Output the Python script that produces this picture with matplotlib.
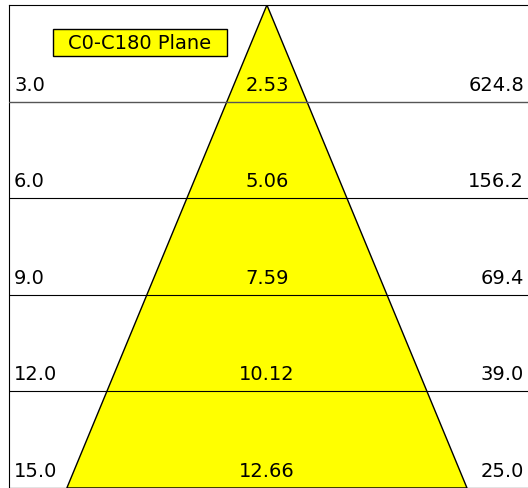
import matplotlib
matplotlib.use("Agg")
import matplotlib.pyplot as plt
from matplotlib.patches import Polygon, Rectangle

distances = [3.0, 6.0, 9.0, 12.0, 15.0]
diameters = [2.53, 5.06, 7.59, 10.12, 12.66]
lux = [624.8, 156.2, 69.4, 39.0, 25.0]
plane = "C0-C180 Plane"

W, H = 528, 489
fig = plt.figure(figsize=(W / 100, H / 100), dpi=100)
ax = fig.add_axes([9 / W, 0, 1 - 9 / W, 1 - 6 / H])

xmin, xmax = -8.16, 8.26
ax.set_xlim(xmin, xmax)
ax.set_ylim(distances[-1], 0)

# beam cone, apex at the lamp
half = diameters[-1] / 2
cone = Polygon([(0, 0), (-half, distances[-1]), (half, distances[-1])],
               closed=True, facecolor="#ffff00", edgecolor="black", lw=1, zorder=2)
ax.add_patch(cone)

for i, (d, dia, lx) in enumerate(zip(distances, diameters, lux)):
    ax.axhline(d, color="#555555" if i == 0 else "black", lw=1.0 if i == 0 else 0.8, zorder=3)
    kw = dict(fontsize=14, va="baseline", textcoords="offset pixels", zorder=4)
    ax.annotate(f"{d:.1f}", (xmin, d), xytext=(5, 12), ha="left", **kw)
    ax.annotate(f"{dia:.2f}", (0, d), xytext=(0, 12), ha="center", **kw)
    ax.annotate(f"{lx:.1f}", (xmax, d), xytext=(-4, 12), ha="right", **kw)

ax.set_xticks([])
ax.set_yticks([])
ax.spines["right"].set_visible(False)

fig.add_artist(Rectangle((53 / W, 1 - 57 / H), 174 / W, 27 / H, transform=fig.transFigure,
                         facecolor="#ffff00", edgecolor="black", lw=1))
fig.text(140 / W, 1 - 43.5 / H, plane, ha="center", va="center", fontsize=14)

fig.savefig("out.png", dpi=100)
